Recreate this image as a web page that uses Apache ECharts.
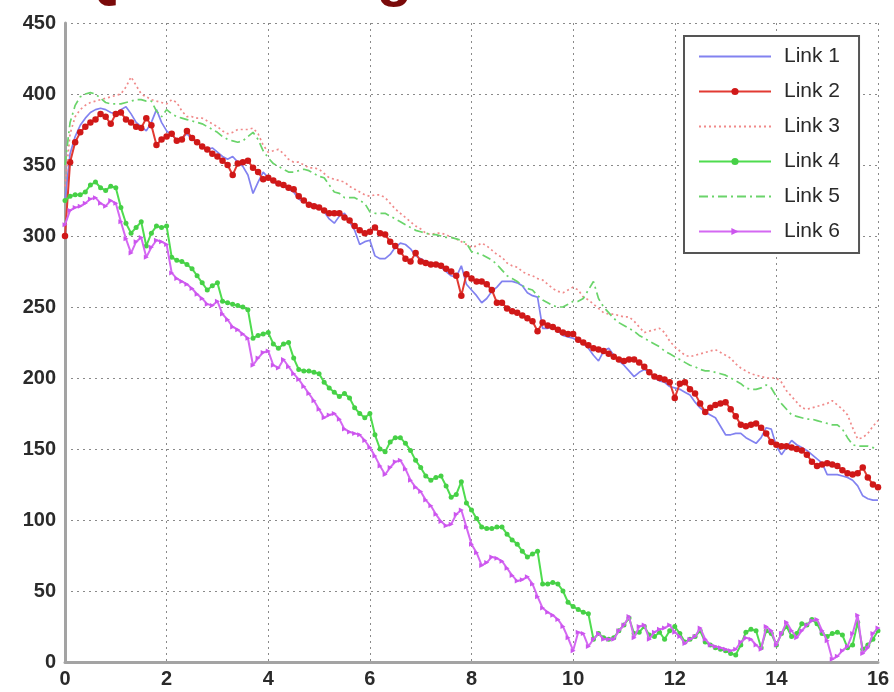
<!DOCTYPE html>
<html>
<head>
<meta charset="utf-8">
<script src="https://cdn.jsdelivr.net/npm/echarts@6/dist/echarts.min.js"></script>
<style>html,body{margin:0;padding:0;background:#fff;}#c{width:894px;height:692px;}</style>
</head>
<body>
<div id="c"></div>
<script>
const titleText = "Queue Length";
const seriesNames = ["Link 1", "Link 2", "Link 3", "Link 4", "Link 5", "Link 6"];
const xTicks = [0, 2, 4, 6, 8, 10, 12, 14, 16];
const yTicks = [0, 50, 100, 150, 200, 250, 300, 350, 400, 450];
// sample times 0.0 .. 16.0, step 0.1
const times = Array.from({length: 161}, (_, i) => Math.round(i) / 10);

const link1 = [325,358,370,378,383,387,389,390,389,387,386,389,391,386,380,377,374,380,389,380,
374,371,368,369,372,368,366,363,361,362,359,356,354,356,352,349,343,330,338,345,
341,338,336,335,333,331,326,324,323,322,321,317,312,309,314,316,310,304,294,296,
297,286,284,284,287,292,295,294,291,286,284,282,281,280,278,275,272,271,279,266,
262,258,253,256,261,264,268,268,268,267,265,260,258,257,235,235,236,233,230,229,
228,226,224,221,216,212,219,221,216,212,209,205,201,204,206,204,200,198,197,194,
193,192,190,188,183,179,176,174,172,166,160,160,161,161,158,156,154,158,165,164,
152,146,151,156,153,151,149,146,143,140,132,132,132,131,130,128,124,117,115,114,114];

const link2 = [300,352,366,373,377,380,382,386,384,379,386,387,382,380,377,376,383,378,364,368,
370,372,367,368,374,369,366,363,361,358,356,353,350,343,351,352,353,348,345,340,
341,339,337,336,334,333,328,325,322,321,320,318,316,316,316,313,311,307,304,302,
303,306,302,301,296,293,289,284,282,288,282,281,280,280,279,277,275,272,258,273,
270,268,268,266,262,253,253,249,247,246,244,242,240,233,239,237,236,234,232,231,
231,227,225,223,221,220,219,217,215,213,212,213,213,211,208,204,201,200,199,197,
186,196,197,192,189,182,176,179,181,182,183,178,173,167,166,167,168,165,161,155,
153,152,152,151,150,149,146,141,138,139,140,139,138,135,133,132,133,137,130,125,123];

const link3 = [335,372,384,389,392,394,395,396,397,398,399,400,405,412,406,400,398,396,395,394,
393,396,394,388,384,384,383,383,381,379,377,374,372,373,375,375,375,376,372,364,
359,360,361,358,354,352,352,350,348,348,347,344,341,340,339,338,335,333,331,329,
328,329,329,327,323,319,316,313,310,307,305,302,301,302,302,301,299,298,296,294,
292,293,295,293,290,287,285,281,279,278,275,273,272,270,269,266,263,261,260,262,
264,262,257,255,252,249,246,245,245,244,243,243,240,236,232,233,234,235,232,226,
222,219,216,215,216,217,218,219,220,218,216,214,210,207,205,203,202,201,200,200,
200,197,191,187,183,179,178,179,180,181,182,184,181,178,174,165,157,158,161,166,170];

const link4 = [325,328,329,329,331,336,338,334,332,335,334,320,309,302,306,310,293,302,307,306,
307,285,283,282,280,277,272,267,262,265,267,254,253,252,251,250,248,228,230,231,
232,224,221,224,225,214,206,205,205,204,203,197,193,190,187,189,186,179,175,172,
175,160,150,148,155,158,158,154,149,142,137,131,128,130,131,124,116,118,127,112,
107,101,95,94,94,95,95,90,86,83,78,74,76,78,55,55,56,55,50,42,
39,37,35,34,16,20,17,16,17,22,26,31,20,21,25,19,18,21,16,22,
25,20,14,16,18,22,14,12,10,9,8,6,5,12,21,23,22,10,22,20,
12,20,25,18,20,27,26,30,27,20,18,20,21,19,10,12,28,9,12,16,22];

const link5 = [350,380,392,398,400,401,400,397,394,393,393,393,394,395,396,396,395,395,388,384,
389,386,384,383,382,381,380,379,377,375,373,370,368,367,366,367,370,373,368,360,
355,351,349,347,345,345,346,347,346,344,342,341,336,331,330,327,327,327,325,323,
317,316,316,316,314,312,310,308,306,304,303,302,301,301,300,299,299,298,297,295,
289,288,287,285,283,280,276,272,270,268,265,263,262,258,255,253,251,250,250,252,
254,254,256,262,268,256,250,246,242,239,237,235,233,230,228,226,224,222,219,217,
215,213,211,209,208,206,205,205,204,203,202,200,198,196,193,192,192,193,195,193,
187,182,178,174,173,172,171,171,170,169,168,167,167,164,158,153,152,152,152,151,150];

const link6 = [308,318,320,321,323,326,327,323,321,325,323,310,298,288,296,299,285,292,297,296,
294,274,270,268,266,263,259,256,252,251,254,245,241,236,234,231,228,209,214,218,
219,209,207,213,208,203,199,194,189,184,178,172,174,175,171,164,162,161,160,156,
151,145,138,132,137,141,142,136,128,123,120,114,110,104,99,96,97,104,107,95,
83,77,68,70,74,73,71,66,61,57,58,60,55,46,38,35,33,30,25,17,
8,21,20,11,16,20,16,16,16,22,26,32,17,25,26,16,21,23,24,26,
21,18,13,16,18,24,16,12,11,10,9,8,9,14,17,16,12,9,25,22,
12,20,28,22,17,22,26,29,30,22,15,2,4,8,11,20,33,6,10,20,24];

const values = [link1, link2, link3, link4, link5, link6];
const colors = ['#8282f0', '#e23a32', '#f08a8a', '#4fdc4f', '#6ad46a', '#d468f2'];
const lineTypes = ['solid', 'solid', [2, 3], 'solid', [9, 4, 2, 4], 'solid'];
const symbols = ['none', 'circle', 'none', 'circle', 'none', 'triangle'];
const symbolSizes = [0, 6.5, 0, 5, 0, 5];
const symbolColors = [null, '#d01818', null, '#46d046', null, '#cc55ee'];

const chart = echarts.init(document.getElementById('c'), null, {renderer: 'canvas'});
const series = seriesNames.map((name, k) => ({
  name: name,
  type: 'line',
  data: times.map((t, i) => [t, values[k][i]]),
  showSymbol: symbols[k] !== 'none',
  symbol: symbols[k],
  symbolSize: symbolSizes[k],
  symbolRotate: symbols[k] === 'triangle' ? -90 : 0,
  animation: false,
  lineStyle: {color: colors[k], width: (k === 1 || k === 3 || k === 5) ? 2 : 1.7, type: lineTypes[k]},
  itemStyle: {color: symbolColors[k] || colors[k], borderWidth: 0},
  emphasis: {disabled: true},
  z: 2 + k
}));

const legendData = seriesNames.map((name, k) => (
  symbols[k] === 'none'
    ? {name: name, itemStyle: {color: 'rgba(0,0,0,0)', opacity: 0}}
    : {name: name}
));

const gridLine = {show: true, lineStyle: {color: '#8a8a8a', width: 1, type: [2, 4]}};
const labelStyle = {fontFamily: 'Liberation Sans', fontSize: 20, fontWeight: 'bold', color: '#2a2a2a'};

chart.setOption({
  backgroundColor: '#ffffff',
  animation: false,
  title: {
    text: titleText,
    left: 72,
    top: -55,
    textStyle: {fontFamily: 'Liberation Sans', fontSize: 58, fontWeight: 'bold', color: '#7a0a0a'}
  },
  grid: {left: 65, right: 16, top: 23, bottom: 30, containLabel: false},
  xAxis: {
    type: 'value', min: xTicks[0], max: xTicks[xTicks.length - 1], interval: 2,
    axisLine: {show: true, onZero: false, lineStyle: {color: '#a3a3a3', width: 3}},
    axisTick: {show: false},
    axisLabel: Object.assign({margin: 7}, labelStyle),
    splitLine: gridLine
  },
  yAxis: {
    type: 'value', min: yTicks[0], max: yTicks[yTicks.length - 1], interval: 50,
    axisLine: {show: true, onZero: false, lineStyle: {color: '#a3a3a3', width: 3}},
    axisTick: {show: false},
    axisLabel: Object.assign({margin: 9}, labelStyle),
    splitLine: gridLine
  },
  legend: {
    data: legendData,
    orient: 'vertical',
    left: 684,
    top: 36,
    padding: [10, 19, 11, 14],
    itemWidth: 72,
    itemHeight: 9,
    itemGap: 14,
    backgroundColor: '#ffffff',
    borderColor: '#555555',
    borderWidth: 2,
    borderRadius: 0,
    textStyle: {fontFamily: 'Liberation Sans', fontSize: 21, lineHeight: 21, color: '#2a2a2a', padding: [0, 0, 0, 8]}
  },
  series: series
});
</script>
</body>
</html>
